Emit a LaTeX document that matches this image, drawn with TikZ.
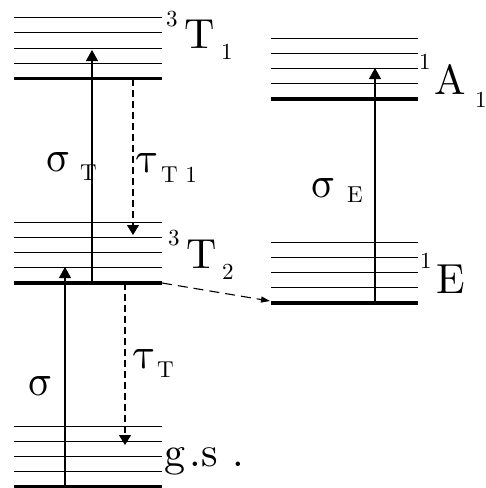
\documentclass[tikz,border=0pt]{standalone}
\usepackage{fontspec}
\newfontfamily\levelfont{lmroman10-regular.otf}
\newfontfamily\greekfont{latinmodern-math.otf}
\usetikzlibrary{arrows.meta}

\tikzset{
  thinlevel/.style={line width=0.9pt},
  baselevel/.style={line width=3.6pt},
  pump/.style={line width=1.1pt, -{Triangle[length=11pt,width=12pt]}},
  decay/.style={line width=1.1pt, dash pattern=on 7pt off 4pt, -{Triangle[length=10pt,width=12pt]}},
  transfer/.style={line width=1.1pt, dash pattern=on 10pt off 6pt, -{Triangle[length=9pt,width=6pt]}},
  lbl/.style={inner sep=0pt, anchor=base west, font=\levelfont\fontsize{42}{42}\selectfont},
  idx/.style={inner sep=0pt, anchor=base west, font=\levelfont\fontsize{23}{23}\selectfont},
  grk/.style={inner sep=0pt, anchor=base west, font=\greekfont\fontsize{44}{44}\selectfont},
}

% four thin sublevels above one thick base level
\newcommand\levelstack[3]{%
  \foreach \k in {1,...,4}
    \draw[thinlevel] (#1,#3-15.2*\k) -- (#2,#3-15.2*\k);
  \draw[baselevel] (#1,#3) -- (#2,#3);
}

\begin{document}
\begin{tikzpicture}[x=1pt, y=-1pt]
  \useasboundingbox (0,0) rectangle (486,488);

  % levels
  \levelstack{14}{162}{78.5}
  \levelstack{14}{162}{283}
  \levelstack{14}{162}{487}
  \levelstack{271}{418}{99}
  \levelstack{271}{418}{303}

  % level labels
  \node[idx] (T1sup) at (166,26) {3};
  \node[lbl] (T1) at (184,48) {T};
  \node[idx] (T1sub) at (221,59) {1};
  \node[idx] (T2sup) at (168,245) {3};
  \node[lbl] (T2) at (186,268) {T};
  \node[idx] (T2sub) at (222,279) {2};
  \node[idx] (A1sup) at (419,69) {1};
  \node[lbl] (A1) at (434,94) {A};
  \node[idx] (A1sub) at (475,107) {1};
  \node[idx] (Esup) at (420,268) {1};
  \node[lbl] (E) at (436,293) {E};
  \node[lbl] (gs) at (164,466) {g\kern4pt.\kern1pt s\hspace{14pt}.};

  % rate labels
  \node[grk] (sig) at (27,395) {σ};
  \node[grk] (sigT) at (45,171) {σ};
  \node[idx] (sigTsub) at (80,180) {T};
  \node[grk] (tauT1) at (136,172) {τ};
  \node[idx] (tauT1sub) at (161,182) {T 1};
  \node[grk] (tauT) at (133,368) {τ};
  \node[idx] (tauTsub) at (157,377) {T};
  \node[grk] (sigE) at (310,197) {σ};
  \node[idx] (sigEsub) at (347,202) {E};

  % arrow ends
  \coordinate (gsA) at (65,487);
  \coordinate (T2A) at (65,267);
  \coordinate (T2B) at (92,283);
  \coordinate (T1B) at (92,50);
  \coordinate (T1C) at (133,79);
  \coordinate (T2C) at (133,235);
  \coordinate (T2D) at (125,283);
  \coordinate (gsD) at (125,445);
  \coordinate (EA) at (375,303);
  \coordinate (A1A) at (375,68);
  \coordinate (T2E) at (162,283);
  \coordinate (EB) at (270,301);

  % transitions
  \draw[pump] (gsA) -- (T2A);
  \draw[pump] (T2B) -- (T1B);
  \draw[pump] (EA) -- (A1A);
  \draw[decay] (T1C) -- (T2C);
  \draw[decay] (T2D) -- (gsD);
  \draw[transfer] (T2E) -- (EB);
\end{tikzpicture}
\end{document}
